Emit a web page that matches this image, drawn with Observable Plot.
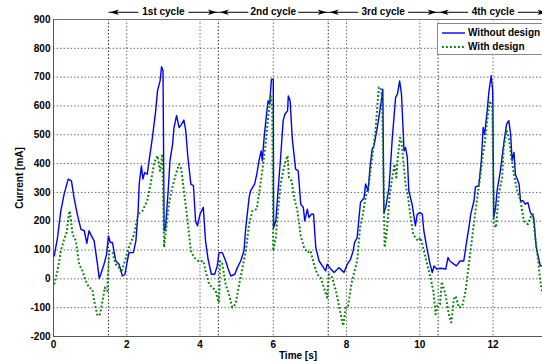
<!DOCTYPE html>
<html><head><meta charset="utf-8">
<script src="https://cdn.jsdelivr.net/npm/d3@7"></script>
<script src="https://cdn.jsdelivr.net/npm/@observablehq/plot@0.6"></script>
<style>
body{margin:0;background:#fff;overflow:hidden;font-family:"Liberation Sans",Arial,sans-serif;}
#wrap{position:relative;width:542px;height:361px;overflow:hidden;}
#legend{position:absolute;left:437px;top:23px;width:110px;height:30px;background:#fff;border:1px solid #888;font-weight:bold;font-size:10px;color:#000;}
#legend .row{position:absolute;left:0;height:14px;display:flex;align-items:center;white-space:nowrap;}
#legend svg{margin-left:4px;margin-right:3px;}
</style>
</head><body>
<div id="wrap"><div id="legend"></div></div>
<script>
// ---- data ----
const xTicks = [0, 2, 4, 6, 8, 10, 12];
const yTicks = [-200, -100, 0, 100, 200, 300, 400, 500, 600, 700, 800, 900];
const xDomain = [0, 13.35];
const yDomain = [-200, 900];
const seriesNames = ["Without design", "With design"];
const cycleLabels = ["1st cycle", "2nd cycle", "3rd cycle", "4th cycle"];
const cycleStart = [1.5, 4.5, 7.5, 10.5];
const cycleEnd = [4.5, 7.5, 10.5, 13.5];

const tWithout = [0.02,0.11,0.2,0.29,0.4,0.49,0.56,0.65,0.75,0.84,0.91,0.97,1.06,1.11,1.2,1.25,1.29,1.38,1.45,1.5,1.55,1.61,1.7,1.79,1.88,1.95,2.0,2.06,2.18,2.25,2.31,2.34,2.4,2.44,2.49,2.56,2.61,2.7,2.79,2.84,2.91,2.95,2.99,3.02,3.06,3.13,3.18,3.25,3.29,3.36,3.43,3.49,3.56,3.61,3.67,3.75,3.82,3.88,3.93,4.0,4.09,4.15,4.22,4.31,4.4,4.47,4.52,4.61,4.7,4.77,4.84,4.95,5.02,5.11,5.2,5.25,5.34,5.38,5.49,5.55,5.61,5.67,5.7,5.75,5.82,5.86,5.9,5.95,6.0,6.01,6.07,6.13,6.2,6.27,6.32,6.39,6.41,6.46,6.52,6.61,6.68,6.75,6.82,6.86,6.93,6.97,7.04,7.1,7.16,7.25,7.34,7.43,7.47,7.57,7.66,7.79,7.93,8.02,8.11,8.18,8.22,8.29,8.38,8.48,8.52,8.59,8.64,8.7,8.75,8.84,8.93,8.99,9.02,9.07,9.16,9.25,9.34,9.39,9.45,9.5,9.57,9.61,9.66,9.7,9.79,9.88,9.93,10.0,10.07,10.11,10.19,10.28,10.34,10.39,10.46,10.57,10.71,10.77,10.82,10.93,11.0,11.1,11.2,11.28,11.34,11.39,11.48,11.52,11.61,11.68,11.73,11.77,11.84,11.89,11.95,11.99,12.02,12.07,12.11,12.2,12.29,12.37,12.43,12.48,12.52,12.57,12.61,12.71,12.75,12.82,12.88,12.95,13.02,13.11,13.18,13.25,13.29,13.35];
const iWithout = [80,143,236,294,346,340,282,224,172,167,123,167,143,132,51,1,16,51,86,149,126,126,62,51,10,16,51,91,91,132,236,329,392,346,369,363,410,490,583,653,687,736,722,167,178,305,410,467,525,566,525,535,551,514,421,329,323,200,184,224,248,132,68,16,16,45,91,91,62,34,10,16,39,62,97,178,282,305,329,363,410,444,410,490,577,618,606,693,693,178,201,305,421,549,572,583,635,618,485,381,375,259,248,201,242,213,224,224,109,62,45,28,51,34,22,39,22,51,68,97,126,143,265,282,329,305,386,450,462,525,600,658,230,248,317,490,630,641,687,641,444,456,421,305,259,184,224,230,224,167,109,51,22,45,34,37,34,74,62,51,45,62,62,130,178,224,271,319,323,410,525,502,583,653,705,653,213,248,305,375,467,537,549,502,410,439,363,329,271,271,259,265,230,213,109,68,45,45];

const tWith = [0.02,0.11,0.2,0.29,0.36,0.43,0.45,0.52,0.61,0.7,0.79,0.88,0.97,1.06,1.11,1.2,1.27,1.34,1.4,1.47,1.52,1.61,1.7,1.79,1.85,1.95,2.06,2.2,2.31,2.43,2.56,2.65,2.75,2.84,2.91,2.97,3.02,3.09,3.15,3.22,3.34,3.43,3.49,3.56,3.65,3.75,3.84,3.97,4.09,4.15,4.25,4.34,4.43,4.47,4.52,4.55,4.61,4.7,4.79,4.88,4.97,5.07,5.16,5.25,5.34,5.43,5.55,5.61,5.7,5.8,5.86,5.93,5.97,6.0,6.07,6.13,6.2,6.27,6.34,6.39,6.43,6.5,6.57,6.66,6.75,6.84,6.93,7.02,7.11,7.2,7.29,7.38,7.47,7.52,7.61,7.71,7.75,7.84,7.91,7.98,8.04,8.13,8.22,8.29,8.37,8.43,8.52,8.61,8.7,8.79,8.88,8.93,8.97,9.04,9.11,9.18,9.25,9.31,9.36,9.4,9.46,9.5,9.55,9.61,9.68,9.75,9.82,9.88,9.95,10.02,10.09,10.2,10.29,10.37,10.43,10.48,10.55,10.6,10.7,10.79,10.86,10.93,10.98,11.07,11.16,11.25,11.34,11.43,11.52,11.61,11.7,11.77,11.84,11.91,11.98,12.02,12.08,12.16,12.25,12.29,12.37,12.43,12.5,12.57,12.66,12.75,12.84,12.95,13.02,13.09,13.15,13.22,13.29,13.35];
const iWith = [-19,28,97,138,161,236,230,155,132,51,28,-7,-30,-36,-76,-128,-123,-76,-30,-42,97,91,51,39,22,62,109,155,224,236,271,329,404,427,375,433,109,190,259,305,363,398,381,305,213,97,74,60,62,28,-19,-30,-42,-65,-82,62,51,-19,-53,-99,-88,-19,39,97,190,236,242,294,375,479,560,635,600,97,143,236,329,375,410,427,352,340,282,236,149,109,91,97,51,16,5,-30,-65,16,5,-42,-65,-123,-163,-99,-94,-19,28,62,178,213,282,329,421,514,664,664,630,109,178,294,352,398,352,421,490,479,410,329,282,213,155,143,132,143,109,51,5,-42,-123,-94,-88,-10,-53,-123,-151,-70,-60,-100,-95,-42,51,143,236,317,410,467,549,618,595,190,178,294,352,456,514,490,421,363,305,271,201,190,213,224,143,74,-7,-53];

const colors = ["#0000ff", "#008000"];

// ---- build tables ----
const withoutData = tWithout.map((t, k) => ({t, i: iWithout[k]}));
const withData = tWith.map((t, k) => ({t, i: iWith[k]}));
const cycles = cycleLabels.map((label, k) => ({label, s: cycleStart[k], e: cycleEnd[k], c: (cycleStart[k] + cycleEnd[k]) / 2}));
const annY = 925; // annotation row just above the axes
const gap = 0.68;

const headRight = {draw(ctx, size){ const r = Math.sqrt(size / Math.PI); ctx.moveTo(r*1.3,0); ctx.lineTo(-r*1.3,-r*0.8); ctx.lineTo(-r*0.6,0); ctx.lineTo(-r*1.3,r*0.8); ctx.closePath(); }};
const headLeft = {draw(ctx, size){ const r = Math.sqrt(size / Math.PI); ctx.moveTo(-r*1.3,0); ctx.lineTo(r*1.3,-r*0.8); ctx.lineTo(r*0.6,0); ctx.lineTo(r*1.3,r*0.8); ctx.closePath(); }};

const gridStyle = {stroke: "#333", strokeOpacity: 0.8, strokeDasharray: "1.5,2", strokeWidth: 0.9};
const greenDash = "1.8,2.2";

const chart = Plot.plot({
  width: 542, height: 361,
  marginLeft: 53, marginRight: 0, marginTop: 19, marginBottom: 25,
  style: {fontFamily: "'Liberation Sans', Arial, sans-serif", fontSize: "10px", fontWeight: "bold", color: "#000", background: "transparent", overflow: "visible"},
  x: {domain: xDomain, ticks: xTicks, tickFormat: d => String(d), tickSize: 0, tickPadding: 4, label: "Time [s]", labelArrow: "none", labelAnchor: "center", labelOffset: 22},
  y: {domain: yDomain, ticks: yTicks, tickFormat: d => String(d), tickSize: 0, tickPadding: 3, label: "Current [mA]", labelArrow: "none", labelAnchor: "center", labelOffset: 38},
  marks: [
    Plot.ruleY(yTicks, gridStyle),
    Plot.ruleX(xTicks, gridStyle),
    Plot.ruleX(cycleStart, {stroke: "#111", strokeDasharray: "1.5,2", strokeWidth: 0.9}),
    Plot.ruleY([yDomain[1]], {stroke: "#777"}),
    Plot.ruleY([yDomain[0]], {stroke: "#555"}),
    Plot.ruleX([xDomain[0]], {stroke: "#555"}),
    Plot.line(withoutData, {x: "t", y: "i", stroke: colors[0], strokeWidth: 1.4}),
    Plot.line(withData, {x: "t", y: "i", stroke: colors[1], strokeWidth: 2, strokeDasharray: greenDash, strokeLinecap: "butt"}),
    Plot.text(cycles, {x: "c", y: () => annY, text: "label", fill: "#000", fontWeight: "bold", fontSize: 10}),
    Plot.link(cycles, {x1: "s", x2: d => d.c - gap, y1: () => annY, y2: () => annY, stroke: "#000", strokeWidth: 1}),
    Plot.link(cycles, {x1: d => d.c + gap, x2: "e", y1: () => annY, y2: () => annY, stroke: "#000", strokeWidth: 1}),
    Plot.dot(cycles, {x: "s", y: () => annY, symbol: headLeft, r: 3.5, fill: "#000", stroke: "none", dx: 6}),
    Plot.dot(cycles, {x: "e", y: () => annY, symbol: headRight, r: 3.5, fill: "#000", stroke: "none", dx: -6})
  ]
});
const wrap = document.getElementById("wrap");
wrap.insertBefore(chart, wrap.firstChild);

// ---- legend ----
const legend = document.getElementById("legend");
seriesNames.forEach((name, k) => {
  const row = document.createElement("div");
  row.className = "row";
  row.style.top = (k === 0 ? 1.5 : 15.5) + "px";
  const dash = k === 0 ? "" : ` stroke-dasharray="${greenDash}"`;
  const sw = k === 0 ? 1.4 : 2;
  row.innerHTML = `<svg width="23" height="6"><line x1="0" y1="3" x2="23" y2="3" stroke="${colors[k]}" stroke-width="${sw}"${dash}/></svg><span>${name}</span>`;
  legend.appendChild(row);
});
</script>
</body></html>
